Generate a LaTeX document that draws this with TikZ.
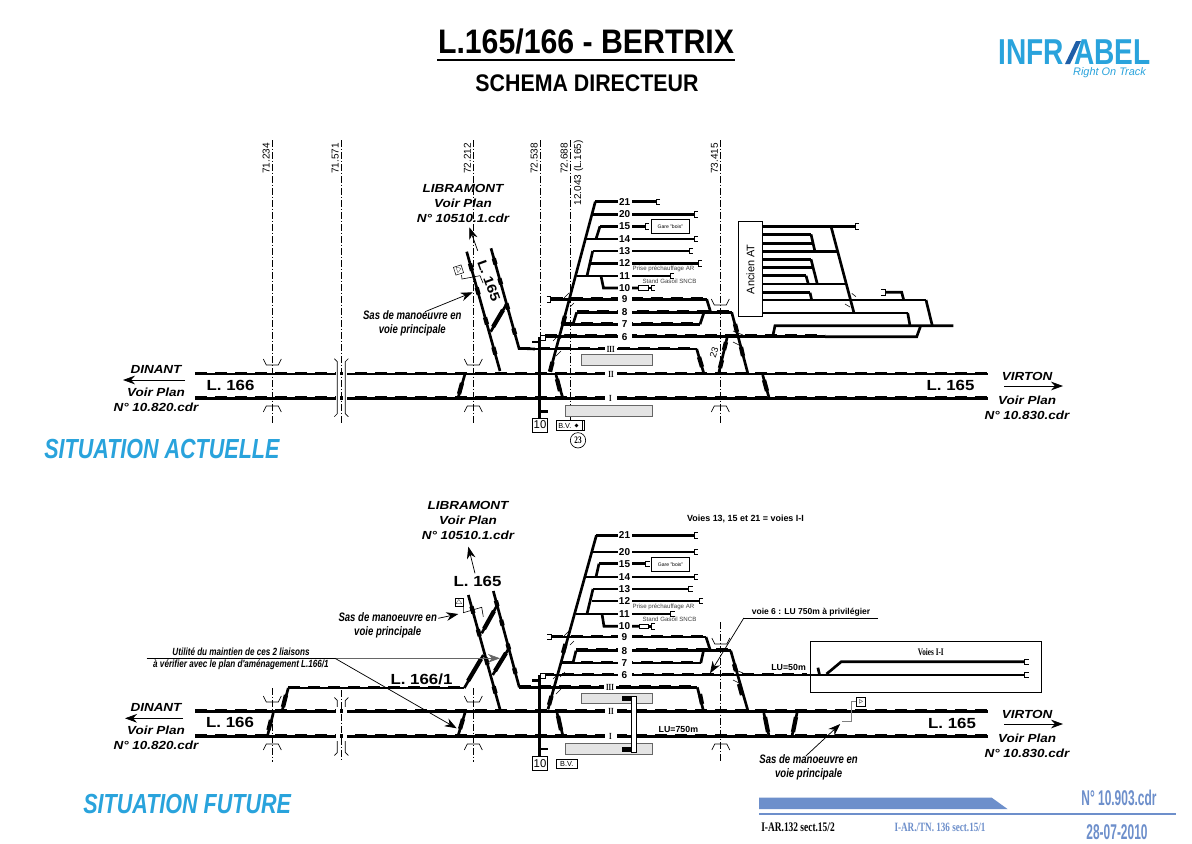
\documentclass[tikz,border=0pt]{standalone}
\usepackage{fontspec}
\setmainfont{Liberation Sans}
\newfontfamily\etroit[FakeStretch=.78]{Liberation Sans}
\newfontfamily\titrage[FakeStretch=.89]{Liberation Sans}
\newfontfamily\pied[FakeStretch=.56]{Liberation Sans}
\newfontfamily\etendu[FakeStretch=1.15]{Liberation Sans}
\newfontfamily\serifetroit[FakeStretch=.72]{Liberation Serif}
\usetikzlibrary{arrows.meta,calc}
\definecolor{bleuinfra}{HTML}{29A3DC}
\definecolor{bleufonce}{HTML}{1F5FA8}
\definecolor{bleupied}{HTML}{6D8FCB}
\definecolor{grisquai}{HTML}{E4E4E4}

\begin{document}
\begin{tikzpicture}[x=.75pt,y=-.75pt,line join=miter,
voie/.style={line width=2pt},
rail/.style={voie,preaction={draw,line width=2pt,dash pattern=on 9pt off 6pt,transform canvas={yshift=.85pt}}},
eclisse/.style={line width=3.2pt},
axe/.style={line width=.5pt,dash pattern=on 5pt off 1.5pt on 1pt off 1.5pt},
fin/.style={line width=.45pt},
fleche/.style={line width=.55pt,-{Stealth[length=9pt,width=6.5pt]}},
quai/.style={draw=black!60,line width=.5pt,fill=grisquai},
numvoie/.style={fill=white,inner sep=0pt,minimum width=10.5pt,minimum height=8pt,font=\bfseries\fontsize{7.5}{8}\selectfont},
numrom/.style={fill=white,inner sep=0pt,minimum width=9pt,minimum height=7pt,font=\serifetroit\bfseries\fontsize{7}{8}\selectfont},
pk/.style={rotate=90,anchor=east,inner sep=0pt,font=\fontsize{7.5}{9}\selectfont},
ville/.style={align=center,inner sep=0pt,font=\etendu\bfseries\itshape\fontsize{8.8}{11.5}\selectfont},
ligne/.style={inner sep=0pt,font=\etendu\bfseries\fontsize{11}{12}\selectfont},
note/.style={align=center,inner sep=0pt,font=\etroit\bfseries\itshape\fontsize{9.2}{10.5}\selectfont},
petit/.style={inner sep=0pt,text=black!75,font=\fontsize{4.6}{5}\selectfont},
bloc/.style={draw,line width=.6pt,fill=white,inner sep=0pt},
situ/.style={text=bleuinfra,inner sep=0pt,font=\etroit\bfseries\itshape\fontsize{20.7}{22}\selectfont},
butoir/.pic={\draw[line width=.6pt] (4,-2.7) -- (0,-2.7) -- (0,2.7) -- (4,2.7);},
butoirg/.pic={\draw[line width=.6pt] (-4,-2.7) -- (0,-2.7) -- (0,2.7) -- (-4,2.7);},
bashaut/.pic={\draw[line width=.5pt] (-9,-6) -- (-6,0) -- (6,0) -- (9,-6);},
hautbas/.pic={\draw[line width=.5pt] (-9,6) -- (-6,0) -- (6,0) -- (9,6);},
coupure/.pic={\draw[line width=.5pt] (-7,-29) -- (-4,-26) -- (-4,26) -- (-7,29);
\draw[line width=.5pt] (7,-29) -- (4,-26) -- (4,26) -- (7,29);}]
\path[use as bounding box,fill=white] (0,0) rectangle (1192,843);

\node[inner sep=0pt,font=\titrage\bfseries\fontsize{25.5}{27}\selectfont] (titre) at (586,42) {L.165/166 - BERTRIX};
\draw[line width=1.5pt] (437,59.5) -- (735,59.5);
\node[inner sep=0pt,font=\titrage\bfseries\fontsize{18}{20}\selectfont] (sstitre) at (587,83) {SCHEMA DIRECTEUR};

\node[anchor=east,inner sep=0pt,text=bleuinfra,font=\etroit\bfseries\fontsize{27}{28}\selectfont] (logoa) at (1064,52.5) {INFR};
\node[anchor=west,inner sep=0pt,text=bleuinfra,font=\etroit\bfseries\fontsize{27}{28}\selectfont] (logob) at (1074,52.5) {ABEL};
\fill[bleufonce] (1065,64) -- (1070,64) -- (1081,41) -- (1076,41) -- cycle;
\node[inner sep=0pt,text=bleuinfra,font=\itshape\fontsize{8.2}{9}\selectfont] (logoc) at (1109.5,73) {Right On Track};

\foreach \xa/\lab in {272.3/71.234,341.3/71.571,473.3/72.212,540.3/72.538,570.3/72.688,720.3/73.415}{
\node[pk] (pk\lab) at (\xa-6,143) {\lab};
}
\node[pk] (pkb) at (578.5,140) {12.043 (L.165)};
\draw[axe] (272.3,140) -- (272.3,423);
\draw[axe] (341.3,140) -- (341.3,423);
\draw[axe] (473.3,140) -- (473.3,423);
\draw[axe] (540.3,140) -- (540.3,337);
\draw[axe] (570.3,140) -- (570.3,420);
\draw[axe] (720.3,140) -- (720.3,423);

\foreach \ya/\xa/\xb/\lab in {201.7/595.3/656/21,214.3/592.7/694/20,226.3/600/645/15,239/585/694/14,251/592.7/689/13,263.3/591/698/12,276/576.7/670/11}{
\draw[voie] (\xa,\ya) -- (\xb,\ya);
\path (\xb,\ya) pic {butoir};
\node[numvoie] (ta\lab) at (624.7,\ya) {\lab};
}
\draw[voie] (600,226.3) -- (596,239);
\draw[voie] (592.7,251) -- (587,276);
\draw[voie] (601,276) -- (603.5,288) -- (638,288);
\path (651,288) pic {butoir};
\draw[voie] (648,288) -- (651,288);
\draw[fin,fill=white] (638.5,285.7) rectangle (648,290.3);
\node[numvoie] (ta10) at (624.7,288) {10};
\draw[voie] (550,371.7) -- (595.3,201.7);
\draw[eclisse] (563,324) -- (565,316);
\draw[eclisse] (550,371.7) -- (552.5,362);

\draw[rail] (550.7,299.3) -- (706.7,299.3);
\draw[voie] (706.7,299.3) -- (710.7,312.3);
\path (550.7,299.3) pic {butoirg};
\draw[rail] (576.7,312.3) -- (731.7,312.3);
\draw[voie] (576.7,312.3) -- (573,324.3);
\draw[rail] (560.7,324.3) -- (700,324.3);
\draw[voie] (700,324.3) -- (704,312.3);
\draw[rail] (545,336.7) -- (825,336.7);
\draw[voie] (825,336.7) -- (916.7,336.7) -- (920.7,325.7);
\draw[voie] (772.7,336.7) -- (775,325.7) -- (953.3,325.7);
\draw[rail] (518,349) -- (696.7,349);
\draw[rail] (195,374) -- (988,374);
\draw[rail] (195,398.3) -- (988,398.3);
\draw[voie] (731.7,312.3) -- (748,374);
\draw[eclisse] (735,324) -- (737,332);
\draw[eclisse] (741,347) -- (743,356);
\draw[voie] (696.7,349) -- (704,374);
\draw[eclisse] (699,357) -- (702,367);
\draw[voie] (719,372) -- (727,338);
\draw[eclisse] (720,368) -- (722,360);
\draw[eclisse] (724,350) -- (726,342);
\draw[voie] (556,375) -- (562.7,397.7);
\draw[eclisse] (557,379) -- (560,391);
\draw[voie] (762.7,375) -- (769,397.7);
\draw[eclisse] (764,380) -- (767,391);
\fill[white] (336,370) rectangle (340,402);
\fill[white] (343,370) rectangle (347,402);
\foreach \ya/\lab in {299.3/9,312.3/8,324.3/7,336.7/6}{
\node[numvoie] (ta\lab) at (624.7,\ya) {\lab};
}
\node[numrom] (taIII) at (610.7,349) {III};
\node[numrom] (taII) at (611,374) {II};
\node[numrom] (taI) at (610.5,398.3) {I};
\foreach \xa/\ya/\xb/\yb in {564/298/569/293,570/307/574/303,560/339/565/334,556/356/561/351,553/341/557/337,733/342/739/345,733/331/743/335}{
\draw[fin] (\xa,\ya) -- (\xb,\yb);
}
\foreach \xa/\xb/\ya in {762.7/855/226.3,762.7/811/234.3,762.7/813.3/243.3,762.7/836.7/251.7,762.7/811/259.3,762.7/813.3/267.3,762.7/806/275.7,762.7/846/284,762.7/810/292.7,762.7/926/300,762.7/907.7/313}{
\draw[voie] (\xa,\ya) -- (\xb,\ya);
}
\path (855,226.3) pic {butoir};
\draw[voie] (811,234.3) -- (815,251.7);
\draw[voie] (811,259.3) -- (817.3,284);
\draw[voie] (806,275.7) -- (808.3,284);
\draw[voie] (810,292.7) -- (811.7,300);
\draw[voie] (926,300) -- (932.3,325.7);
\draw[voie] (907.7,313) -- (910,325.7);
\draw[voie] (831,226.3) -- (854,313);
\draw[voie] (885,292.3) -- (901.7,292.3) -- (903.7,300);
\path (885,292.3) pic {butoirg};
\draw[fin] (845,304) -- (850,307);
\draw[fin] (851.7,293.3) -- (856,296.7);
\node[bloc,minimum width=18pt,minimum height=71.5pt] (anca) at (750.5,269.2) {};
\node[rotate=90,inner sep=0pt,font=\fontsize{8.2}{10}\selectfont] (ancb) at (750.5,269.2) {Ancien AT};
\node[bloc,minimum width=28.5pt,minimum height=10.5pt,font=\fontsize{3.8}{4}\selectfont] (garea) at (670.3,226.3) {Gare "bois"};
\node[petit] (prisea) at (663.5,268.5) {Prise préchauffage AR};
\node[petit] (standa) at (669.5,281.3) {Stand Gasoil SNCB};
\draw[quai] (581.3,354.3) rectangle (652.7,365.3);
\draw[quai] (565.3,405.3) rectangle (652.7,416.7);

\draw[voie] (539.5,337) -- (539.5,418);
\draw[voie] (532,342) -- (539.5,342);
\draw[voie] (539.5,411.7) -- (547.5,411.7);
\draw[fin,fill=white] (540,335) rectangle (545,340);
\node[draw,line width=.6pt,minimum width=11.5pt,minimum height=10.5pt,inner sep=0pt,font=\fontsize{8.5}{9}\selectfont] (dixa) at (540,425) {10};
\node[draw,line width=.5pt,minimum width=21pt,minimum height=7.5pt,inner sep=0pt] (bva) at (570.7,425.5) {};
\node[anchor=west,inner sep=0pt,font=\fontsize{5.5}{6}\selectfont] (bvb) at (558,425.5) {B.V.};
\fill (576.5,425.5) circle (1.9);
\draw[fin] (582,420.7) -- (582,430.3);
\node[draw,circle,line width=.5pt,minimum size=11.5pt,inner sep=0pt,font=\serifetroit\bfseries\fontsize{7.5}{8}\selectfont] (cer) at (578,440.3) {23};
\node[rotate=73,inner sep=0pt,font=\fontsize{7}{8}\selectfont] (vingt) at (714,352.7) {23};

\draw[voie] (466.7,251.7) -- (500,371);
\draw[voie] (491,248.3) -- (519,348.3) -- (535,349);
\draw[voie] (490.7,331.7) -- (506,305);
\draw[eclisse] (493,327) -- (503,310);
\foreach \ta/\tb in {0.1/0.16,0.3/0.36,0.55/0.61,0.8/0.86}{
\draw[eclisse] ($(491,248.3)!\ta!(519,348.3)$) -- ($(491,248.3)!\tb!(519,348.3)$);
\draw[eclisse] ($(466.7,251.7)!\ta!(500,371)$) -- ($(466.7,251.7)!\tb!(500,371)$);
}
\draw[voie] (458,398) -- (465,374);
\draw[eclisse] (459,394) -- (462,383);
\draw[fleche] (477.7,250.7) -- (469.3,227.3);
\node[ville] (liba) at (463,203.5) {LIBRAMONT\\Voir Plan\\N° 10510.1.cdr};
\node[rotate=-70,inner sep=0pt,font=\etendu\bfseries\fontsize{10}{12}\selectfont] (lcinqa) at (488.8,281) {L. 165};
\node[draw,line width=.4pt,minimum size=6pt,inner sep=0pt,rotate=-72,font=\fontsize{4}{5}\selectfont] (siga) at (458.5,270) {$\triangle$};
\draw[fin] (461.5,275) -- (462,279) -- (480,275.7) -- (483,283);
\draw[fleche] (425,311.7) -- (472.7,292.3);
\node[note] (sasa) at (412.3,323.5) {Sas de manoeuvre en\\voie principale};
\path (272.3,365) pic {bashaut};
\path (272.3,406) pic {hautbas};
\path (473.3,365) pic {bashaut};
\path (473.3,406) pic {hautbas};
\path (720.3,305) pic {bashaut};
\path (720.3,406) pic {hautbas};
\path (341.3,387.7) pic {coupure};

\node[ligne] (lsixa) at (230.5,385.5) {L. 166};
\node[ligne] (lcinqb) at (950.5,385.5) {L. 165};
\node[ville] (dina) at (156,388.5) {DINANT\\[6pt]Voir Plan\\N° 10.820.cdr};
\draw[fleche] (185,380) -- (123,380);
\node[ville] (vira) at (1027,396) {VIRTON\\[6pt]Voir Plan\\N° 10.830.cdr};
\draw[fleche] (1004,386) -- (1063,386);
\node[situ,anchor=west] (sita) at (44,449) {SITUATION ACTUELLE};

\draw[axe] (272.3,688) -- (272.3,761.7);
\draw[axe] (341.3,690) -- (341.3,761.7);
\draw[axe] (473.3,688) -- (473.3,761.7);
\draw[axe] (720.8,622) -- (720.8,761.7);
\foreach \ya/\xa/\xb/\lab in {535.3/596.4/694/21,552/593/694/20,563.7/599/645.7/15,577/585.4/694/14,589/593/688.7/13,601/592/699/12,614/575.8/670.5/11}{
\draw[voie] (\xa,\ya) -- (\xb,\ya);
\path (\xb,\ya) pic {butoir};
\node[numvoie] (tb\lab) at (624.5,\ya) {\lab};
}
\draw[voie] (599,563.7) -- (596,577);
\draw[voie] (593,589) -- (587,614);
\draw[voie] (602,614) -- (604,626.3) -- (638.8,626.3);
\path (651,626.3) pic {butoir};
\draw[voie] (648,626.3) -- (651,626.3);
\draw[fin,fill=white] (638.8,624) rectangle (648,628.6);
\node[numvoie] (tb10) at (624.5,626.3) {10};
\draw[voie] (548,709.3) -- (596.4,535.3);
\draw[eclisse] (563,653) -- (565.5,644);
\draw[eclisse] (549,705) -- (551.5,696);

\draw[rail] (551,637) -- (706,637);
\draw[voie] (706,637) -- (710.4,650.7);
\path (551,637) pic {butoirg};
\draw[rail] (576,650.7) -- (730.7,650.7);
\draw[voie] (576,650.7) -- (573,663);
\draw[rail] (561,663) -- (700.8,663);
\draw[voie] (700.8,663) -- (703.5,650.7);
\draw[rail] (542,675) -- (807,675);
\draw[voie] (807,675) -- (1024.5,675);
\path (1024.5,675) pic {butoir};
\draw[rail] (519,687.3) -- (697.3,687.3);
\draw[rail] (195,711.7) -- (988,711.7);
\draw[rail] (195,736.7) -- (988,736.7);
\draw[voie] (730.7,650.7) -- (748,711);
\draw[eclisse] (734,664) -- (736,671);
\draw[eclisse] (739,684) -- (742,695);
\draw[voie] (697.3,687.3) -- (703.5,711);
\draw[eclisse] (700,694) -- (702,704);
\draw[voie] (557,713) -- (563,736);
\draw[eclisse] (558,716) -- (561,730);
\draw[voie] (763.8,713) -- (769,736);
\draw[eclisse] (765,717) -- (768,732);
\draw[voie] (797,713) -- (792,736);
\draw[eclisse] (796,717) -- (793,732);
\foreach \ya/\lab in {637/9,650.7/8,663/7,675/6}{
\node[numvoie] (tb\lab) at (624.5,\ya) {\lab};
}
\node[numrom] (tbIII) at (610,687.3) {III};
\node[numrom] (tbII) at (611,711.7) {II};
\node[numrom] (tbI) at (610.5,736.7) {I};
\foreach \xa/\ya/\xb/\yb in {564/636/569/631,570/645/574/641,560/677/565/672,556/694/561/689,553/679/557/675,733/680/739/683,733/669/743/673}{
\draw[fin] (\xa,\ya) -- (\xb,\yb);
}
\node[bloc,minimum width=28.5pt,minimum height=10pt,font=\fontsize{3.8}{4}\selectfont] (gareb) at (670.5,564.3) {Gare "bois"};
\node[petit] (priseb) at (663.5,607.3) {Prise préchauffage AR};
\node[petit] (standb) at (669.5,619.3) {Stand Gasoil SNCB};
\draw[quai] (581.3,693.3) rectangle (652.6,703.7);
\draw[quai] (565.5,743.3) rectangle (652.6,754.7);
\draw[fill=black] (622,696.3) rectangle (630,700.7);
\draw[fill=black] (622,747.3) rectangle (630,751.7);
\draw[line width=.5pt,fill=white] (631,696) rectangle (636.4,752);

\draw[voie] (539.6,675) -- (539.6,756);
\draw[voie] (532,680.3) -- (539.6,680.3);
\draw[voie] (539.6,749) -- (548,749);
\draw[fin,fill=white] (540,673) rectangle (545,678);
\node[draw,line width=.6pt,minimum width=11.5pt,minimum height=10.5pt,inner sep=0pt,font=\fontsize{8.5}{9}\selectfont] (dixb) at (540,763.3) {10};
\node[draw,line width=.5pt,minimum width=16pt,minimum height=7.3pt,inner sep=0pt,font=\fontsize{5.5}{6}\selectfont] (bvc) at (566.8,763.8) {B.V.};

\draw[voie] (468.3,595) -- (500,709.3);
\draw[voie] (493.3,591) -- (519.3,687.3);
\draw[voie] (481.7,633.3) -- (496.7,606);
\draw[eclisse] (484,629) -- (494,611);
\draw[voie] (492.7,675) -- (508.3,649.3);
\draw[eclisse] (495,671) -- (506,653);
\foreach \ta/\tb in {0.1/0.16,0.3/0.36,0.55/0.61,0.8/0.86}{
\draw[eclisse] ($(493.3,591)!\ta!(519.3,687.3)$) -- ($(493.3,591)!\tb!(519.3,687.3)$);
\draw[eclisse] ($(468.3,595)!\ta!(500,709.3)$) -- ($(468.3,595)!\tb!(500,709.3)$);
}
\draw[rail] (288.3,688) -- (464.3,688);
\draw[voie] (282.3,710) -- (288.3,688);
\draw[eclisse] (283,707) -- (286,695);
\draw[voie] (267.7,735) -- (273.3,713);
\draw[eclisse] (268.5,730) -- (271,720);
\draw[voie] (464.3,688) -- (483.3,655);
\draw[eclisse] (468,681) -- (481,659);
\draw[voie] (458.3,735) -- (465,712.7);
\draw[eclisse] (460,729) -- (463,719);
\draw[fleche] (475,573.3) -- (468.3,546.7);
\node[ville] (libb) at (468,520.5) {LIBRAMONT\\Voir Plan\\N° 10510.1.cdr};
\node[ligne] (lcinqc) at (477.5,581) {L. 165};
\node[ligne] (lsixb) at (421.5,679) {L. 166/1};
\node[draw,line width=.4pt,minimum size=6pt,inner sep=0pt,font=\fontsize{4}{5}\selectfont] (sigb) at (459,602.7) {$\triangle$};
\draw[fin] (463.3,607) -- (463.3,612.7) -- (481.7,607.3) -- (483.3,616.7);
\draw[fleche] (438.3,618.3) -- (458.3,614);
\node[note] (sasb) at (387.7,625.3) {Sas de manoeuvre en\\voie principale};
\node[note,font=\etroit\bfseries\itshape\fontsize{7.8}{9.2}\selectfont] (util) at (241,658.5) {Utilité du maintien de ces 2 liaisons\\à vérifier avec le plan d'aménagement L.166/1};
\draw[fin] (146.7,658.3) -- (335,658.3);
\draw[fleche,draw=black!60] (335,658.3) -- (500,658.3);
\draw[fleche] (335,658.3) -- (456.7,728.3);
\path (272.3,702) pic {bashaut};
\path (272.3,744) pic {hautbas};
\path (473.3,702) pic {bashaut};
\path (473.3,744) pic {hautbas};
\path (720.8,644) pic {bashaut};
\path (720.8,744) pic {hautbas};
\path (341.3,726.5) pic {coupure};
\fill[white] (336,707) rectangle (340,741);
\fill[white] (343,707) rectangle (347,741);

\node[inner sep=0pt,font=\bfseries\fontsize{6.7}{7}\selectfont] (voiesa) at (745.5,519) {Voies 13, 15 et 21 = voies I-I};
\node[inner sep=0pt,font=\bfseries\fontsize{6.4}{8}\selectfont] (voiesb) at (811,612) {voie 6 : LU 750m à privilégier};
\draw[fin] (878,618) -- (743.8,618);
\draw[fleche] (743.8,618) -- (710,673.3);
\node[inner sep=0pt,font=\bfseries\fontsize{6.6}{8}\selectfont] (lucin) at (788.6,667) {LU=50m};
\node[inner sep=0pt,font=\bfseries\fontsize{6.6}{8}\selectfont] (lusep) at (678.4,729) {LU=750m};
\node[draw,line width=.6pt,minimum width=173.5pt,minimum height=38pt,inner sep=0pt] (cadre) at (926,667) {};
\node[inner sep=0pt,font=\serifetroit\bfseries\fontsize{7.5}{8}\selectfont] (voiesc) at (930.8,652.3) {Voies I-I};
\draw[voie] (817.9,667.7) -- (819.6,675);
\draw[voie] (826.5,674) -- (841.3,661.7) -- (1024.5,661.7);
\path (1024.5,661.7) pic {butoir};
\node[draw,line width=.5pt,minimum size=6.5pt,inner sep=0pt,font=\fontsize{4.5}{5}\selectfont] (sigc) at (861,702) {$\triangleright$};
\draw[line width=.7pt,black!50] (856.4,701.7) -- (851.3,701.7) -- (851.3,721.7) -- (842,721.7);
\draw[fleche] (805.8,756) -- (840.2,724);
\node[note] (sasc) at (808.6,767) {Sas de manoeuvre en\\voie principale};

\node[ligne] (lsixc) at (230,722.7) {L. 166};
\node[ligne] (lcinqd) at (952,723.5) {L. 165};
\node[ville] (dinb) at (156,726.5) {DINANT\\[6pt]Voir Plan\\N° 10.820.cdr};
\draw[fleche] (183,718.3) -- (125,718.3);
\node[ville] (virb) at (1027,734) {VIRTON\\[6pt]Voir Plan\\N° 10.830.cdr};
\draw[fleche] (1004,724) -- (1063,724);
\node[situ,anchor=west] (sitb) at (83,804) {SITUATION FUTURE};

\fill[bleupied] (759,797.5) -- (991.5,797.5) -- (1007.5,809) -- (759,809) -- cycle;
\draw[bleupied,line width=2.2pt] (759,814) -- (1176,814);
\node[inner sep=0pt,font=\serifetroit\bfseries\fontsize{9.8}{10}\selectfont] (refa) at (798,827) {I-AR.132 sect.15/2};
\node[inner sep=0pt,text=bleupied,font=\serifetroit\bfseries\fontsize{9.5}{10}\selectfont] (refb) at (940,827) {I-AR./TN. 136 sect.15/1};
\node[inner sep=0pt,text=bleupied,font=\pied\bfseries\fontsize{16}{17}\selectfont] (refc) at (1119,798) {N° 10.903.cdr};
\node[inner sep=0pt,text=bleupied,font=\pied\bfseries\fontsize{16}{17}\selectfont] (refd) at (1117,832) {28-07-2010};
\end{tikzpicture}
\end{document}
